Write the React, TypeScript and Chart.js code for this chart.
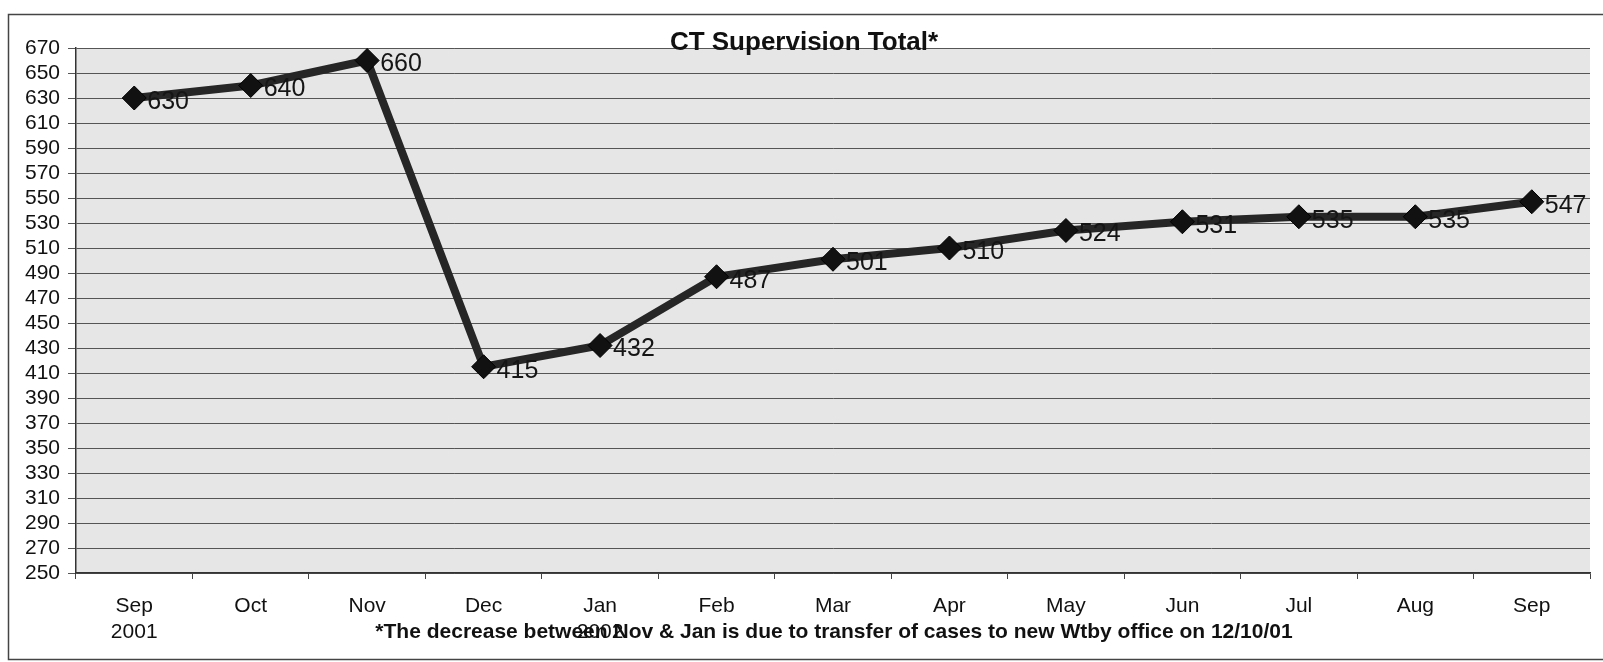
import React, { useEffect, useRef } from "react";
import { Chart, registerables } from "chart.js";

Chart.register(...registerables);

const months: (string | string[])[] = [
  ["Sep", "2001"], "Oct", "Nov", "Dec", ["Jan", "2002"], "Feb", "Mar", "Apr", "May", "Jun", "Jul", "Aug", "Sep",
];
const totals: number[] = [630, 640, 660, 415, 432, 487, 501, 510, 524, 531, 535, 535, 547];
const titleText = "CT Supervision Total*";
const footnoteText = "*The decrease between Nov & Jan is due to transfer of cases to new Wtby office on 12/10/01";
const yMin = 250;
const yMax = 670;
const yStep = 20;

const FONT = '"Liberation Sans", Arial, sans-serif';

const decorPlugin = {
  id: "decor",
  beforeDraw(chart: any) {
    const { ctx, chartArea } = chart;
    ctx.save();
    ctx.fillStyle = "#ffffff";
    ctx.fillRect(0, 0, chart.width, chart.height);
    ctx.fillStyle = "#e6e6e6";
    ctx.fillRect(chartArea.left, chartArea.top, chartArea.right - chartArea.left, chartArea.bottom - chartArea.top);
    ctx.strokeStyle = "#444";
    ctx.lineWidth = 1.5;
    ctx.strokeRect(8.5, 14.5, chart.width + 10, 645);
    ctx.restore();
  },
  afterDatasetsDraw(chart: any) {
    const { ctx } = chart;
    const meta = chart.getDatasetMeta(0);
    ctx.save();
    ctx.fillStyle = "#151515";
    ctx.font = `25px ${FONT}`;
    ctx.textAlign = "left";
    ctx.textBaseline = "middle";
    meta.data.forEach((pt: any, i: number) => {
      ctx.fillText(String(totals[i]), pt.x + 13, pt.y + 4);
    });
    ctx.font = `bold 26px ${FONT}`;
    ctx.textAlign = "center";
    ctx.fillStyle = "#111";
    ctx.fillText(titleText, 804, 43);
    ctx.font = `bold 21px ${FONT}`;
    ctx.fillText(footnoteText, 834, 632);
    ctx.restore();
  },
};

export default function App() {
  const ref = useRef<HTMLCanvasElement | null>(null);
  useEffect(() => {
    document.body.style.margin = "0";
    if (!ref.current) return;
    const chart = new Chart(ref.current, {
      type: "line",
      data: {
        labels: months,
        datasets: [
          {
            data: totals,
            borderColor: "#262626",
            borderWidth: 8,
            pointStyle: "rectRot",
            pointRadius: 12,
            pointBackgroundColor: "#111",
            pointBorderColor: "#000",
            pointBorderWidth: 1,
            tension: 0,
          },
        ],
      },
      options: {
        responsive: false,
        animation: false,
        devicePixelRatio: 1,
        layout: { padding: { left: 10, right: 6, top: 48, bottom: 9 } },
        plugins: { legend: { display: false }, tooltip: { enabled: false }, title: { display: false } },
        scales: {
          x: {
            offset: true,
            grid: { offset: true, drawOnChartArea: false, drawTicks: true, tickLength: 6, color: "#444" },
            border: { display: true, color: "#333", width: 1.5 },
            ticks: { color: "#111", font: { family: FONT, size: 21, lineHeight: 1.2 }, padding: 15, maxRotation: 0, autoSkip: false },
            afterFit: (s: any) => { s.height = 80; },
          },
          y: {
            min: yMin,
            max: yMax,
            grid: { color: "#555", lineWidth: 1, tickLength: 8 },
            border: { display: true, color: "#333", width: 1.5 },
            ticks: { stepSize: yStep, autoSkip: false, color: "#111", font: { family: FONT, size: 21 }, padding: 8 },
            afterFit: (s: any) => { s.width = 66; },
          },
        },
      },
      plugins: [decorPlugin],
    } as any);
    return () => chart.destroy();
  }, []);
  return <canvas ref={ref} width={1603} height={662} style={{ display: "block" }} />;
}
